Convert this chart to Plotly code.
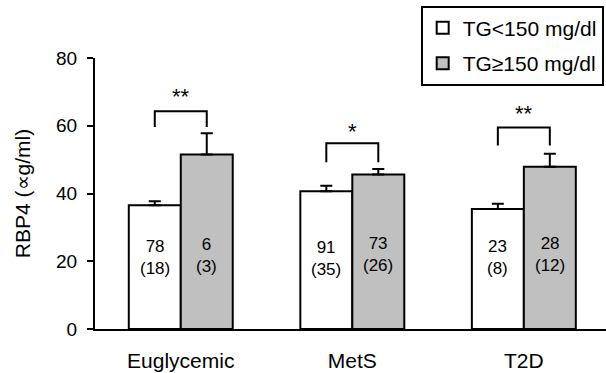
import plotly.graph_objects as go

# ---- data ----
groups = ["Euglycemic", "MetS", "T2D"]
series_names = ["TG<150 mg/dl", "TG≥150 mg/dl"]
low_tg_mean = [36.5, 40.7, 35.4]
low_tg_err = [1.2, 1.6, 1.6]
high_tg_mean = [51.5, 45.6, 47.9]
high_tg_err = [6.3, 1.6, 3.8]
low_tg_n = ["78<br>(18)", "91<br>(35)", "23<br>(8)"]
high_tg_n = ["6<br>(3)", "73<br>(26)", "28<br>(12)"]
low_label_y = [21.2, 20.9, 21.0]
high_label_y = [21.8, 21.9, 22.1]
sig_labels = ["**", "*", "**"]
bracket_top = [64.3, 54.8, 59.5]
bracket_leg_bottom = [59.6, 49.2, 54.2]
star_y = [68.5, 58.4, 63.7]
y_ticks = [0, 20, 40, 60, 80]

FONT = "Liberation Sans, Arial, Helvetica, sans-serif"
BARGAP = 0.394
half_w = (1 - BARGAP) / 4  # center offset of each bar within a group

W, H = 606, 373
ML, MR, MT, MB = 94.5, 0, 57.5, 43.5
plot_w = W - ML - MR
plot_h = H - MT - MB

xpos = list(range(len(groups)))

fig = go.Figure()
fig.add_trace(go.Bar(
    x=xpos, y=low_tg_mean, name=series_names[0], legendgroup="a",
    marker=dict(color="white", line=dict(color="black", width=2)),
    error_y=dict(type="data", array=low_tg_err, arrayminus=[0] * 3, symmetric=False,
                 color="black", thickness=2, width=6),
))
fig.add_trace(go.Bar(
    x=xpos, y=high_tg_mean, name=series_names[1], legendgroup="b",
    marker=dict(color="#c0c0c0", line=dict(color="black", width=2)),
    error_y=dict(type="data", array=high_tg_err, arrayminus=[0] * 3, symmetric=False,
                 color="black", thickness=2, width=6),
))

# significance brackets
for i in xpos:
    fig.add_trace(go.Scatter(
        x=[i - half_w, i - half_w, i + half_w, i + half_w],
        y=[bracket_leg_bottom[i], bracket_top[i], bracket_top[i], bracket_leg_bottom[i]],
        mode="lines", line=dict(color="black", width=2),
        showlegend=False, hoverinfo="skip",
    ))
    fig.add_annotation(x=i, y=star_y[i], text=sig_labels[i], showarrow=False,
                       font=dict(family=FONT, size=22, color="black"))
    fig.add_annotation(x=i - half_w, y=low_label_y[i], text=low_tg_n[i], showarrow=False,
                       font=dict(family=FONT, size=17, color="black"))
    fig.add_annotation(x=i + half_w, y=high_label_y[i], text=high_tg_n[i], showarrow=False,
                       font=dict(family=FONT, size=17, color="black"))

fig.update_layout(
    width=W, height=H,
    margin=dict(l=ML, r=MR, t=MT, b=MB, autoexpand=False),
    paper_bgcolor="white", plot_bgcolor="white",
    barmode="group", bargap=BARGAP, bargroupgap=0,
    font=dict(family=FONT, color="black"),
    showlegend=True,
    legend=dict(
        x=(420.5 - ML) / plot_w, xanchor="left",
        y=(H - MB - 5) / plot_h, yanchor="top",
        bordercolor="black", borderwidth=2, bgcolor="white",
        font=dict(family=FONT, size=21, color="black"),
        itemwidth=30, traceorder="grouped", tracegroupgap=5,
    ),
    xaxis=dict(
        range=[-0.5, 2.479], tickmode="array", tickvals=xpos, ticktext=groups,
        showline=True, linecolor="black", linewidth=2, ticks="",
        showgrid=False, zeroline=False, tickfont=dict(family=FONT, size=21),
        ticklabelstandoff=12,
    ),
    yaxis=dict(
        range=[0, 80], tickmode="array", tickvals=y_ticks,
        showline=True, linecolor="black", linewidth=2,
        ticks="outside", ticklen=6, tickwidth=2, tickcolor="black",
        showgrid=False, zeroline=False, tickfont=dict(family=FONT, size=19),
        ticklabelstandoff=6,
        title=dict(text="RBP4 (∝g/ml)", font=dict(family=FONT, size=21), standoff=20),
    ),
)

fig.write_html("out.html", config={"displayModeBar": False},
               post_script="document.body.style.margin='0';")
